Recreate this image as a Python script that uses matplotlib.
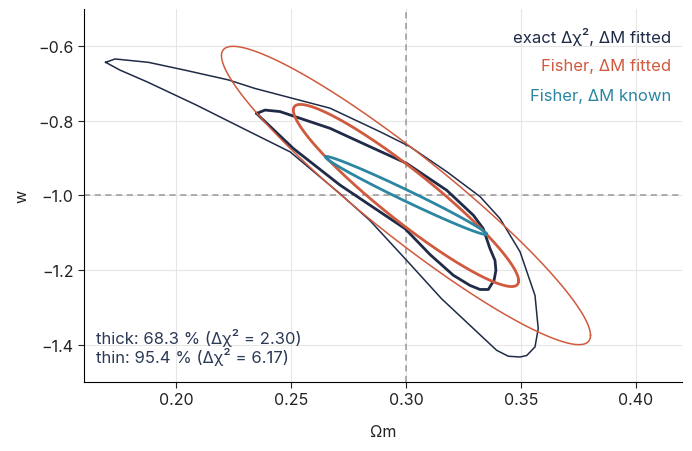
import matplotlib
matplotlib.use("Agg")
import matplotlib.pyplot as plt
import numpy as np

# -- data ----------------------------------------------------------------------
OM_TRUE, W_TRUE = 0.30, -1.0
DCHI2_THICK, DCHI2_THIN = 2.30, 6.17

# Fisher ellipses: (sigma_Om, sigma_w, rho)
fisher_fitted = (0.0323, 0.161, -0.937)
fisher_known  = (0.0231, 0.069, -0.988)

# exact delta-chi2 contours (Om, w)
exact_68_om = [0.2351, 0.2387, 0.2452, 0.2670, 0.2843, 0.3003, 0.3177, 0.3293,
               0.3336, 0.3365, 0.3387, 0.3391, 0.3383, 0.3358, 0.3322, 0.3278,
               0.3206, 0.3104, 0.2996, 0.2713, 0.2510, 0.2365, 0.2351]
exact_68_w  = [-0.780, -0.771, -0.775, -0.820, -0.869, -0.914, -0.986, -1.053,
               -1.089, -1.142, -1.174, -1.201, -1.227, -1.252, -1.252, -1.241,
               -1.214, -1.158, -1.089, -0.972, -0.874, -0.789, -0.780]

exact_95_om = [0.1694, 0.1735, 0.1880, 0.2039, 0.2227, 0.2343, 0.2670, 0.2887,
               0.3017, 0.3177, 0.3322, 0.3409, 0.3496, 0.3561, 0.3575, 0.3561,
               0.3525, 0.3496, 0.3445, 0.3394, 0.3278, 0.3155, 0.3000, 0.2843,
               0.2713, 0.2496, 0.2307, 0.2090, 0.1873, 0.1757, 0.1694]
exact_95_w  = [-0.643, -0.634, -0.643, -0.664, -0.690, -0.713, -0.766, -0.829,
               -0.869, -0.936, -1.003, -1.062, -1.151, -1.268, -1.357, -1.406,
               -1.429, -1.433, -1.431, -1.415, -1.348, -1.277, -1.172, -1.067,
               -0.995, -0.883, -0.825, -0.758, -0.695, -0.664, -0.643]

NAVY = "#1f2b47"
RED  = "#d05a3e"
TEAL = "#2a86a2"

plt.rcParams["font.family"] = ["Inter", "DejaVu Sans"]


def ellipse(sig, dchi2, n=400):
    sx, sy, rho = sig
    cov = np.array([[sx * sx, rho * sx * sy], [rho * sx * sy, sy * sy]])
    L = np.linalg.cholesky(cov)
    t = np.linspace(0, 2 * np.pi, n)
    xy = np.sqrt(dchi2) * L @ np.vstack([np.cos(t), np.sin(t)])
    return OM_TRUE + xy[0], W_TRUE + xy[1]


# -- figure --------------------------------------------------------------------
fig = plt.figure(figsize=(6.92, 4.52), dpi=100)
ax = fig.add_axes([0.1214, 0.1527, 0.8641, 0.8252])

ax.grid(True, color="#e6e6e6", lw=0.8)
ax.set_axisbelow(True)
ax.axvline(OM_TRUE, color="#999999", ls="--", lw=1.1, dashes=(4, 3))
ax.axhline(W_TRUE, color="#999999", ls="--", lw=1.1, dashes=(4, 3))

ax.plot(exact_95_om, exact_95_w, color=NAVY, lw=1.1)
ax.plot(exact_68_om, exact_68_w, color=NAVY, lw=2.0)

x, y = ellipse(fisher_fitted, DCHI2_THIN)
ax.plot(x, y, color=RED, lw=1.1)
x, y = ellipse(fisher_fitted, DCHI2_THICK)
ax.plot(x, y, color=RED, lw=2.0)
x, y = ellipse(fisher_known, DCHI2_THICK)
ax.plot(x, y, color=TEAL, lw=2.0)

ax.set_xlim(0.16, 0.42)
ax.set_ylim(-1.5, -0.5)
ax.set_xticks([0.20, 0.25, 0.30, 0.35, 0.40])
ax.set_xticklabels(["0.20", "0.25", "0.30", "0.35", "0.40"])
ax.set_yticks([-1.4, -1.2, -1.0, -0.8, -0.6])
ax.set_yticklabels(["\u22121.4", "\u22121.2", "\u22121.0", "\u22120.8", "\u22120.6"])
ax.tick_params(labelsize=11.5, colors="#222222", length=4)
for side in ["top", "right"]:
    ax.spines[side].set_visible(False)
ax.set_xlabel("\u03a9m", fontsize=11.5, color="#222222", labelpad=12)
ax.set_ylabel("w", fontsize=11.5, color="#222222", labelpad=6)

for i, (txt, c) in enumerate([("exact \u0394\u03c7\u00b2, \u0394M fitted", NAVY),
                              ("Fisher, \u0394M fitted", RED),
                              ("Fisher, \u0394M known", TEAL)]):
    ax.text(0.982, 0.928 - i * 0.080, txt, transform=ax.transAxes,
            ha="right", va="center", fontsize=12, color=c)

ax.text(0.02, 0.045, "thick: 68.3 % (\u0394\u03c7\u00b2 = 2.30)\n"
        "thin: 95.4 % (\u0394\u03c7\u00b2 = 6.17)",
        transform=ax.transAxes, ha="left", va="bottom", fontsize=12,
        color="#2d3a57", linespacing=1.1)

plt.savefig("out.png", dpi=100, facecolor="white")
plt.close()
